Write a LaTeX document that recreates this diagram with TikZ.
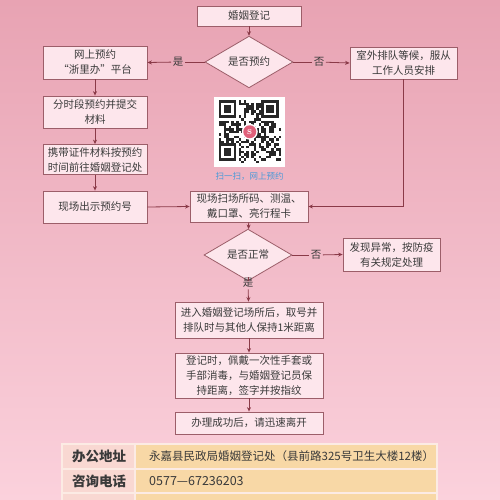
\documentclass[tikz,border=0pt]{standalone}
\usepackage{fontspec}
\newfontfamily\cjk{Noto Sans CJK SC}
\usetikzlibrary{shapes.geometric,arrows.meta}
\definecolor{bgtop}{HTML}{E8A3B3}
\definecolor{bgbot}{HTML}{FBD1DC}
\definecolor{boxfill}{HTML}{FDE6EC}
\definecolor{boxline}{HTML}{9C5E69}
\definecolor{arrowc}{HTML}{8A3A48}
\definecolor{textc}{HTML}{3A3A3A}
\definecolor{qrblue}{HTML}{4A9AD8}
\definecolor{tleft}{HTML}{F9D8D2}
\definecolor{tright}{HTML}{F8D8A6}
\definecolor{tline}{HTML}{FCEBE4}
\definecolor{logopink}{HTML}{E0607A}
\tikzset{
  box/.style={draw=boxline, fill=boxfill, line width=0.8pt, text=textc,
    font=\cjk\fontsize{10.5}{15}\selectfont, align=center, inner sep=0pt},
  dia/.style={diamond, draw=boxline, fill=boxfill, line width=0.8pt, text=textc,
    font=\cjk\fontsize{10.5}{15}\selectfont, inner sep=0pt},
  lbl/.style={text=textc, font=\cjk\fontsize{10.5}{13}\selectfont, inner sep=1.5pt},
  conn/.style={draw=arrowc, line width=0.8pt},
  arr/.style={conn, -{Stealth[length=4.5pt,width=4pt]}},
  tl/.style={font=\cjk\bfseries\fontsize{13.5}{15}\selectfont, text=textc, inner sep=0pt},
  tr/.style={font=\cjk\fontsize{11.5}{14}\selectfont, text=textc, inner sep=0pt, anchor=west}
}
\begin{document}
\begin{tikzpicture}[x=1pt,y=-1pt]
\useasboundingbox (0,0) rectangle (500,500);
\shade[top color=bgtop, bottom color=bgbot] (0,0) rectangle (500,500);

% nodes
\node[box, minimum width=104pt, minimum height=20pt] (start) at (249,16) {婚姻登记};
\node[dia, minimum width=88pt, minimum height=42pt] (d1) at (249,62) {是否预约};
\node[box, minimum width=104pt, minimum height=33pt] (b1) at (95,62.5) {网上预约\\“浙里办”平台};
\node[box, minimum width=107pt, minimum height=32pt] (r1) at (403.5,63) {室外排队等候，服从\\工作人员安排};
\node[box, minimum width=104pt, minimum height=32pt] (b2) at (95,112) {分时段预约并提交\\材料};
\node[box, minimum width=104pt, minimum height=30pt] (b3) at (95,159.5) {携带证件材料按预约\\时间前往婚姻登记处};
\node[box, minimum width=104pt, minimum height=32pt] (b4) at (95,207) {现场出示预约号};
\node[box, minimum width=118pt, minimum height=31pt] (s) at (249,206.5) {现场扫场所码、测温、\\戴口罩、亮行程卡};
\node[dia, minimum width=88pt, minimum height=36pt] (d2) at (248,255) {是否正常};
\node[box, minimum width=97pt, minimum height=33pt] (a) at (391.5,254.5) {发现异常，按防疫\\有关规定处理};
\node[box, minimum width=148pt, minimum height=36pt] (e1) at (249,320) {进入婚姻登记场所后，取号并\\排队时与其他人保持1米距离};
\node[box, minimum width=148pt, minimum height=45pt] (e2) at (249,375.5) {登记时，佩戴一次性手套或\\手部消毒，与婚姻登记员保\\持距离，签字并按指纹};
\node[box, minimum width=148pt, minimum height=22pt] (e3) at (249,423) {办理成功后，请迅速离开};

% labels
\node[lbl] (l1) at (178,62) {是};
\node[lbl] (l2) at (319,62) {否};
\node[lbl] (l3) at (316,255) {否};
\node[lbl] (l4) at (248,283) {是};
\coordinate (c1) at (r1.south |- s.east);

% connectors
\draw[arr] (start) -- (d1);
\draw[conn] (d1.west) -- (l1);
\draw[arr] (l1) -- (b1.east);
\draw[conn] (d1.east) -- (l2);
\draw[arr] (l2) -- (r1.west);
\draw[arr] (b1) -- (b2);
\draw[arr] (b2) -- (b3);
\draw[arr] (b3) -- (b4);
\draw[arr] (b4.east) -- (s.west);
\draw[arr] (r1.south) -- (c1) -- (s.east);
\draw[arr] (s) -- (d2);
\draw[conn] (d2.east) -- (l3);
\draw[arr] (l3) -- (a.west);
\draw[conn] (d2.south) -- (l4);
\draw[arr] (l4) -- (e1);
\draw[arr] (e1) -- (e2);
\draw[arr] (e2) -- (e3);

% QR code
\fill[white] (214,97) rectangle (285,167);
\pgfmathsetseed{12}
\foreach \i in {0,...,24}{
  \foreach \j in {0,...,24}{
    \pgfmathrandominteger{\r}{0}{1}
    \ifnum\r=1 \fill[black!85] (218.5+\i*2.5,100.5+\j*2.5) rectangle ++(2.5,2.5);\fi
  }
}
\foreach \ox/\oy in {218.5/100.5, 261/100.5, 218.5/143}{
  \fill[white] (\ox-0.5,\oy-0.5) rectangle ++(21,21);
  \fill[black!85] (\ox,\oy) rectangle ++(17.5,17.5);
  \fill[white] (\ox+2.5,\oy+2.5) rectangle ++(12.5,12.5);
  \fill[black!85] (\ox+5,\oy+5) rectangle ++(7.5,7.5);
}
\fill[white] (249.75,131.75) circle (8);
\fill[logopink] (249.75,131.75) circle (6.5);
\node[text=white, font=\bfseries\fontsize{7}{7}\selectfont, inner sep=0pt] (logo) at (249.75,131.75) {S};
\node[text=qrblue, font=\cjk\fontsize{8.5}{10}\selectfont, inner sep=0pt] (cap) at (249.5,176) {扫一扫，网上预约};

% table
\fill[tleft] (62,444) rectangle (135,510);
\fill[tright] (135,444) rectangle (437,510);
\draw[tline, line width=1.2pt] (62,444) rectangle (437,510);
\draw[tline, line width=1.2pt] (62,469) -- (437,469);
\draw[tline, line width=1.2pt] (62,493) -- (437,493);
\draw[tline, line width=1.2pt] (135,444) -- (135,510);
\node[tl] (t1) at (99,456.5) {办公地址};
\node[tl] (t2) at (99,481) {咨询电话};
\node[tr] (t3) at (149,456.5) {永嘉县民政局婚姻登记处（县前路325号卫生大楼12楼）};
\node[tr, font=\cjk\fontsize{12.5}{14}\selectfont] (t4) at (149,481) {0577—67236203};
\end{tikzpicture}
\end{document}
